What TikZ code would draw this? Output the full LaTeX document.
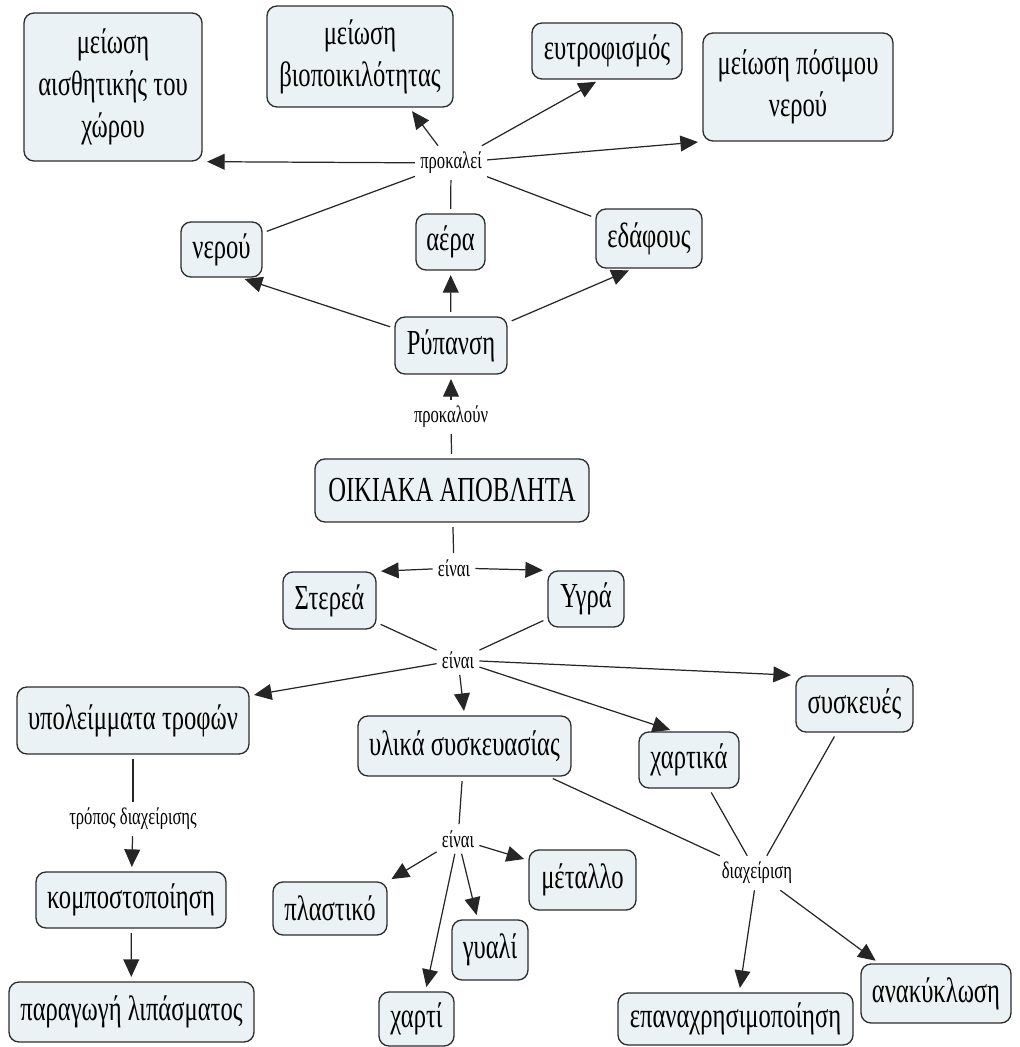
\documentclass[tikz,border=0pt]{standalone}
\usepackage{fontspec}
\setmainfont{Liberation Serif}[FakeStretch=0.70]
\usetikzlibrary{arrows.meta}

\definecolor{conceptfill}{RGB}{234,242,246}
\definecolor{conceptline}{RGB}{45,45,45}

\begin{document}
\begin{tikzpicture}[
  concept/.style={rectangle, rounded corners=0.2cm, draw=conceptline, line width=0.75pt,
                  fill=conceptfill, align=center, inner sep=2pt,
                  font=\fontsize{20}{24}\selectfont},
  linkword/.style={inner xsep=0.1cm, inner ysep=0.12cm, font=\fontsize{13.5}{15}\selectfont},
  link/.style={draw=black!85, line width=0.7pt, shorten <=2.5pt},
  arr/.style={draw=black!85, line width=0.7pt, shorten >=2.5pt,
              -{Triangle[length=10pt, width=9pt]}}
]
\useasboundingbox (0,0) rectangle (20.38,-20.94);

% Upper part: consequences
\node[concept, minimum width=3.56cm, minimum height=2.96cm] (chwrou) at (2.26,-1.74)
  {μείωση\\ αισθητικής του\\ χώρου};
\node[concept, minimum width=3.72cm, minimum height=2.02cm] (bio) at (7.20,-1.13)
  {μείωση\\ βιοποικιλότητας};
\node[concept, minimum width=3.00cm, minimum height=1.12cm] (eutro) at (12.14,-1.02) {ευτροφισμός};
\node[concept, minimum width=3.80cm, minimum height=2.16cm] (posimou) at (15.96,-1.74)
  {μείωση πόσιμου\\ νερού};
\node[linkword] (prokalei) at (9.02,-3.26) {προκαλεί};

% Kinds of pollution
\node[concept, minimum width=1.62cm, minimum height=1.10cm] (nerou) at (4.43,-4.99) {νερού};
\node[concept, minimum width=1.38cm, minimum height=1.12cm] (aera) at (9.01,-4.84) {αέρα};
\node[concept, minimum width=2.12cm, minimum height=1.18cm] (edafous) at (12.98,-4.77) {εδάφους};
\node[concept, minimum width=2.24cm, minimum height=1.14cm] (rypansi) at (9.02,-6.91) {Ρύπανση};
\node[linkword] (prokaloun) at (9.02,-8.34) {προκαλούν};

% Main concept
\node[concept, minimum width=5.48cm, minimum height=1.26cm] (oikiaka) at (9.04,-9.81) {ΟΙΚΙΑΚΑ ΑΠΟΒΛΗΤΑ};
\node[linkword] (einai1) at (9.08,-11.36) {είναι};
\node[concept, minimum width=1.86cm, minimum height=1.14cm] (sterea) at (6.59,-12.01) {Στερεά};
\node[concept, minimum width=1.52cm, minimum height=1.12cm] (ygra) at (11.72,-11.98) {Υγρά};
\node[linkword] (einai2) at (9.16,-13.20) {είναι};

% Lower part: types and handling
\node[concept, minimum width=4.64cm, minimum height=1.34cm] (ypoleimmata) at (2.66,-14.41) {υπολείμματα τροφών};
\node[concept, minimum width=4.26cm, minimum height=1.20cm] (ylika) at (9.29,-14.92) {υλικά συσκευασίας};
\node[concept, minimum width=2.00cm, minimum height=1.12cm] (chartika) at (13.78,-15.20) {χαρτικά};
\node[concept, minimum width=2.34cm, minimum height=1.12cm] (syskeves) at (17.09,-14.08) {συσκευές};
\node[linkword] (tropos) at (2.66,-16.38) {τρόπος διαχείρισης};
\node[concept, minimum width=3.80cm, minimum height=1.12cm] (kompost) at (2.62,-18.00) {κομποστοποίηση};
\node[concept, minimum width=4.90cm, minimum height=1.20cm] (paragogi) at (2.63,-20.24) {παραγωγή λιπάσματος};
\node[linkword] (einai3) at (9.16,-16.78) {είναι};
\node[concept, minimum width=2.28cm, minimum height=1.06cm] (plastiko) at (6.60,-18.17) {πλαστικό};
\node[concept, minimum width=1.52cm, minimum height=1.20cm] (gyali) at (9.80,-19.00) {γυαλί};
\node[concept, minimum width=1.50cm, minimum height=1.08cm] (charti) at (8.33,-20.38) {χαρτί};
\node[concept, minimum width=2.14cm, minimum height=1.20cm] (metallo) at (11.65,-17.60) {μέταλλο};
\node[linkword] (diax) at (15.14,-17.46) {διαχείριση};
\node[concept, minimum width=4.70cm, minimum height=1.04cm] (epanachr) at (14.71,-20.38) {επαναχρησιμοποίηση};
\node[concept, minimum width=3.00cm, minimum height=1.18cm] (anakyklosi) at (18.72,-19.87) {ανακύκλωση};

% Plain lines, concept to linking phrase
\foreach \a/\b in {nerou.22/prokalei, aera/prokalei, edafous.159/prokalei,
                   oikiaka/prokaloun, oikiaka/einai1,
                   sterea.-25/einai2, ygra.-153/einai2,
                   ypoleimmata/tropos, ylika/einai3,
                   ylika.-20/diax, chartika.-55/diax, syskeves.-122/diax}
  \draw[link] (\a) -- (\b);

% Arrows, linking phrase to concept
\foreach \a/\b in {prokalei/chwrou.south east, prokalei/bio.-46, prokalei/eutro.-104,
                   prokalei/posimou.south west, prokaloun/rypansi,
                   einai1/sterea.north east, einai1/ygra.north west,
                   einai2/ypoleimmata.12, einai2/ylika.north, einai2/chartika.117,
                   einai2/syskeves.north west, tropos/kompost,
                   einai3/plastiko.north east, einai3/charti.72, einai3/gyali.112,
                   einai3/metallo.160, diax/epanachr.82, diax/anakyklosi.152}
  \draw[arr] (\a) -- (\b);

% Arrows straight between concepts
\draw[arr, shorten <=2.5pt] (rypansi.163) -- (nerou.-56);
\draw[arr, shorten <=2.5pt] (rypansi) -- (aera);
\draw[arr, shorten <=2.5pt] (rypansi.22) -- (edafous.-118);
\draw[arr, shorten <=2.5pt] (kompost) -- (paragogi);
\end{tikzpicture}
\end{document}
